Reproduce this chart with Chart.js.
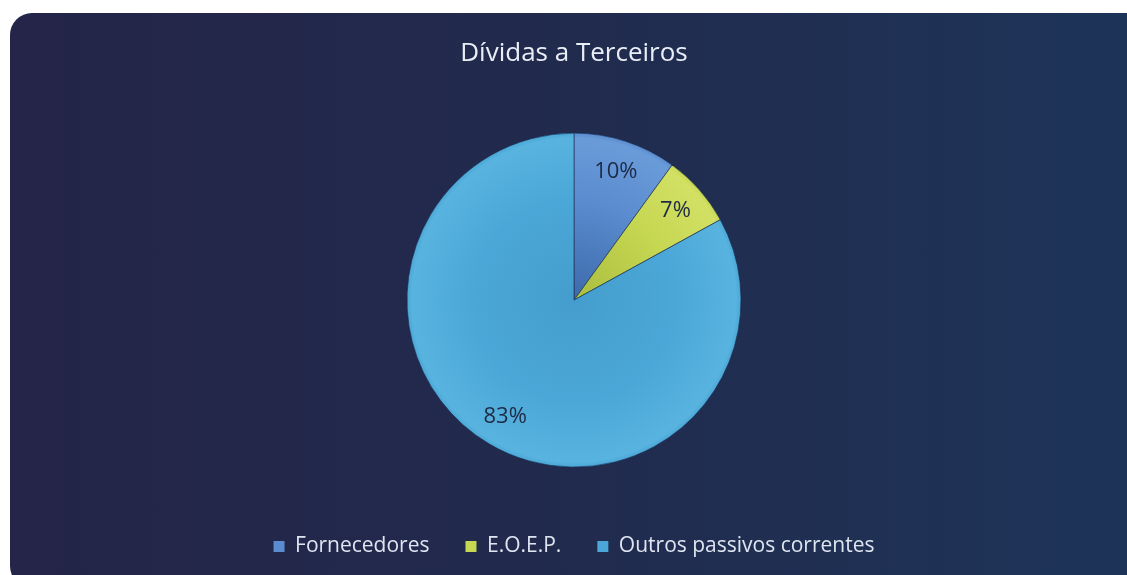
<!DOCTYPE html>
<html>
<head>
<meta charset="utf-8">
<script src="https://cdn.jsdelivr.net/npm/chart.js@4.4.0/dist/chart.umd.min.js"></script>
<style>
  html, body { margin: 0; padding: 0; background: #ffffff; }
  #wrap { position: relative; width: 1127px; height: 575px; overflow: hidden; }
  #box {
    position: absolute; left: 10px; top: 13px; width: 1140px; height: 575px;
    border-radius: 22px;
    background: linear-gradient(90deg, #242548 0%, #212a4d 45%, #1d3559 100%);
  }
  #grafico { position: absolute; left: 0; top: 0; }
</style>
</head>
<body>
<div id="wrap">
  <div id="box"></div>
  <canvas id="grafico" width="1127" height="575"></canvas>
</div>
<script>
const categorias = ['Fornecedores', 'E.O.E.P.', 'Outros passivos correntes'];
const percentagens = [10, 7, 83];
const cores = ['#5a8ccf', '#c6d752', '#4ba7d7'];
const coresCentro = ['#3d6aab', '#aabd3e', '#449dcd'];
const coresBorda = ['#6a9bd9', '#d2e064', '#58b3df'];
const RAIO = 167;

// etiquetas de percentagem dentro das fatias
const etiquetas = {
    id: 'etiquetas',
    afterDatasetsDraw(chart) {
        const ctx = chart.ctx;
        const meta = chart.getDatasetMeta(0);
        ctx.save();
        ctx.font = '22px "Open Sans"';
        ctx.fillStyle = '#1e2a44';
        ctx.textAlign = 'center';
        ctx.textBaseline = 'middle';
        meta.data.forEach((arc, i) => {
            const p = arc.getProps(['x', 'y', 'startAngle', 'endAngle', 'outerRadius']);
            const meio = (p.startAngle + p.endAngle) / 2;
            const r = p.outerRadius * 0.81;
            ctx.fillText(percentagens[i] + '%', p.x + Math.cos(meio) * r, p.y + Math.sin(meio) * r);
        });
        ctx.restore();
    }
};

function preenchimento(context) {
    const chart = context.chart;
    const i = context.dataIndex;
    const area = chart.chartArea;
    if (!area) return cores[i];
    const cx = (area.left + area.right) / 2;
    const cy = (area.top + area.bottom) / 2;
    const g = chart.ctx.createRadialGradient(cx, cy, 0, cx, cy, RAIO);
    g.addColorStop(0, coresCentro[i]);
    g.addColorStop(0.6, cores[i]);
    g.addColorStop(0.97, coresBorda[i]);
    g.addColorStop(1, cores[i]);
    return g;
}

new Chart(document.getElementById('grafico'), {
    type: 'pie',
    data: {
        labels: categorias,
        datasets: [{
            data: percentagens,
            backgroundColor: preenchimento,
            borderColor: 'rgba(25, 45, 80, 0.6)',
            borderWidth: 1,
            radius: RAIO
        }]
    },
    options: {
        responsive: false,
        animation: false,
        layout: { padding: { left: 21, right: 0, top: 0, bottom: 8 } },
        plugins: {
            title: {
                display: true,
                text: 'Dívidas a Terceiros',
                color: '#e9eef6',
                font: { family: 'Open Sans', size: 26, weight: 'normal' },
                padding: { top: 38, bottom: 31 }
            },
            legend: {
                position: 'bottom',
                labels: {
                    color: '#dfe5f0',
                    font: { family: 'Open Sans', size: 21 },
                    boxWidth: 11,
                    boxHeight: 11,
                    padding: 36,
                    generateLabels(chart) {
                        return categorias.map((c, i) => ({
                            text: c,
                            fillStyle: cores[i],
                            strokeStyle: cores[i],
                            fontColor: '#dfe5f0',
                            lineWidth: 0,
                            index: i
                        }));
                    }
                }
            },
            tooltip: { enabled: false }
        }
    },
    plugins: [etiquetas]
});
</script>
</body>
</html>
